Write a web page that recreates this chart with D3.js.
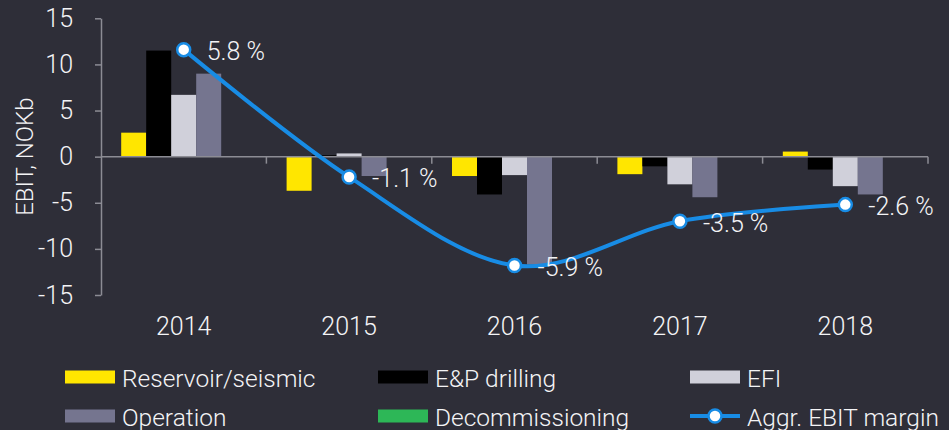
<!DOCTYPE html>
<html>
<head>
<meta charset="utf-8">
<script src="https://cdn.jsdelivr.net/npm/d3@7"></script>
<style>
  html, body { margin: 0; padding: 0; background: #2e2e38; }
  svg { display: block; }
  text { font-family: Roboto, sans-serif; font-weight: 300; fill: #f4f4f6; }
</style>
</head>
<body>
<svg id="chart" width="949" height="430"></svg>
<script>
// ---- Data ----
const years = ["2014", "2015", "2016", "2017", "2018"];
const reservoirSeismic = [2.6, -3.7, -2.1, -1.9, 0.55];
const epDrilling = [11.5, 0.15, -4.1, -1.05, -1.4];
const efi = [6.7, 0.35, -2.0, -3.0, -3.2];
const operation = [9.0, -2.1, -11.7, -4.4, -4.1];
const decommissioning = [0, 0, 0, 0, 0];
const aggrEbitMargin = [5.8, -1.1, -5.9, -3.5, -2.6];
const yTicks = [-15, -10, -5, 0, 5, 10, 15];
const seriesNames = ["Reservoir/seismic", "E&P drilling", "EFI", "Operation", "Decommissioning"];
const lineName = "Aggr. EBIT margin";
const yTitle = "EBIT, NOKb";

(function () {
const seriesValues = [reservoirSeismic, epDrilling, efi, operation, decommissioning];
const colors = ["#ffe600", "#000000", "#d0d0da", "#75758f", "#2db757"];
const lineColor = "#188ce5";
const loc = d3.formatLocale({ decimal: ".", thousands: ",", grouping: [3], currency: ["", ""], minus: "-" });
const fmtInt = loc.format("d");
const fmtPct = loc.format(".1f");
const FS = "25px";

const svg = d3.select("#chart");
const mLeft = 101, mRight = 928, mTop = 18.3, mBottom = 295;

const x = d3.scaleBand().domain(years).range([mLeft, mRight]).padding(0);
const xs = d3.scaleBand().domain(seriesNames).range([0, x.bandwidth()]).paddingInner(0).paddingOuter(0.808);
const y = d3.scaleLinear().domain([-15, 15]).range([mBottom, mTop]);
const y2 = d3.scaleLinear().domain([-7.5, 7.5]).range([mBottom, mTop]);

// Y axis
const yAxis = svg.append("g")
  .attr("transform", `translate(${mLeft},0)`)
  .call(d3.axisLeft(y).tickValues(yTicks).tickFormat(fmtInt).tickSize(6).tickSizeOuter(0).tickPadding(22));
yAxis.select(".domain").attr("stroke", "#8c8c94").attr("stroke-width", 1.5);
yAxis.selectAll(".tick line").attr("stroke", "#8c8c94").attr("stroke-width", 1.5);
yAxis.selectAll(".tick text").style("font-size", FS).attr("fill", "#f4f4f6")
  .style("font-family", "Roboto").style("font-weight", 300);

// Y title
svg.append("text")
  .attr("transform", `translate(25,${(mTop + mBottom) / 2}) rotate(-90)`)
  .attr("text-anchor", "middle")
  .attr("dominant-baseline", "central")
  .style("font-size", "24px")
  .text(yTitle);

// Bars
const groups = svg.append("g").selectAll("g").data(years).join("g")
  .attr("transform", d => `translate(${x(d)},0)`);
groups.selectAll("rect")
  .data((yr, i) => seriesNames.map((s, k) => ({ s, k, v: seriesValues[k][i] })))
  .join("rect")
  .attr("x", d => xs(d.s))
  .attr("width", xs.bandwidth())
  .attr("y", d => y(Math.max(0, d.v)))
  .attr("height", d => Math.abs(y(d.v) - y(0)))
  .attr("fill", d => colors[d.k]);

// X axis at zero
const xAxis = svg.append("g")
  .attr("transform", `translate(0,${y(0)})`);
xAxis.append("line")
  .attr("x1", mLeft).attr("x2", mRight)
  .attr("stroke", "#8c8c94").attr("stroke-width", 1.5);
const boundaries = years.map(d => x(d)).concat([x(years[years.length - 1]) + x.bandwidth()]);
xAxis.selectAll("line.tk").data(boundaries.slice(1)).join("line")
  .attr("class", "tk")
  .attr("x1", d => d).attr("x2", d => d)
  .attr("y1", 0).attr("y2", 7)
  .attr("stroke", "#8c8c94").attr("stroke-width", 1.5);

// Year labels
svg.append("g").selectAll("text").data(years).join("text")
  .attr("x", d => x(d) + x.bandwidth() / 2)
  .attr("y", 326)
  .attr("text-anchor", "middle")
  .attr("dominant-baseline", "central")
  .style("font-size", FS)
  .text(d => d);

// Line
const pts = years.map((yr, i) => ({ yr, v: aggrEbitMargin[i] }));
const lineGen = d3.line()
  .x(d => x(d.yr) + x.bandwidth() / 2)
  .y(d => y2(d.v))
  .curve(d3.curveCatmullRom.alpha(0));
svg.append("path")
  .datum(pts)
  .attr("d", lineGen)
  .attr("fill", "none")
  .attr("stroke", lineColor)
  .attr("stroke-width", 4);
svg.append("g").selectAll("circle").data(pts).join("circle")
  .attr("cx", d => x(d.yr) + x.bandwidth() / 2)
  .attr("cy", d => y2(d.v))
  .attr("r", 6.5)
  .attr("fill", "#ffffff")
  .attr("stroke", lineColor)
  .attr("stroke-width", 2.5);
svg.append("g").selectAll("text").data(pts).join("text")
  .attr("x", d => x(d.yr) + x.bandwidth() / 2 + 23)
  .attr("y", d => y2(d.v) + 2)
  .attr("dominant-baseline", "central")
  .style("font-size", FS)
  .text(d => fmtPct(d.v) + " %");

// Legend
const legendItems = seriesNames.map((s, k) => ({ name: s, color: colors[k], type: "rect" }))
  .concat([{ name: lineName, color: lineColor, type: "line" }]);
const colX = [65, 378, 690], rowY = [377, 416];
const lg = svg.append("g").selectAll("g").data(legendItems).join("g")
  .attr("transform", (d, i) => `translate(${colX[i % 3]},${rowY[Math.floor(i / 3)]})`);
lg.each(function (d) {
  const g = d3.select(this);
  if (d.type === "rect") {
    g.append("rect").attr("x", 0).attr("y", -6.5).attr("width", 50).attr("height", 13).attr("fill", d.color);
  } else {
    g.append("line").attr("x1", 0).attr("x2", 50).attr("stroke", d.color).attr("stroke-width", 4);
    g.append("circle").attr("cx", 25).attr("r", 6.5).attr("fill", "#fff").attr("stroke", d.color).attr("stroke-width", 2.5);
  }
  g.append("text").attr("x", 57).attr("y", 1)
    .attr("dominant-baseline", "central")
    .style("font-size", "24.5px")
    .text(d.name);
});
})();
</script>
</body>
</html>
